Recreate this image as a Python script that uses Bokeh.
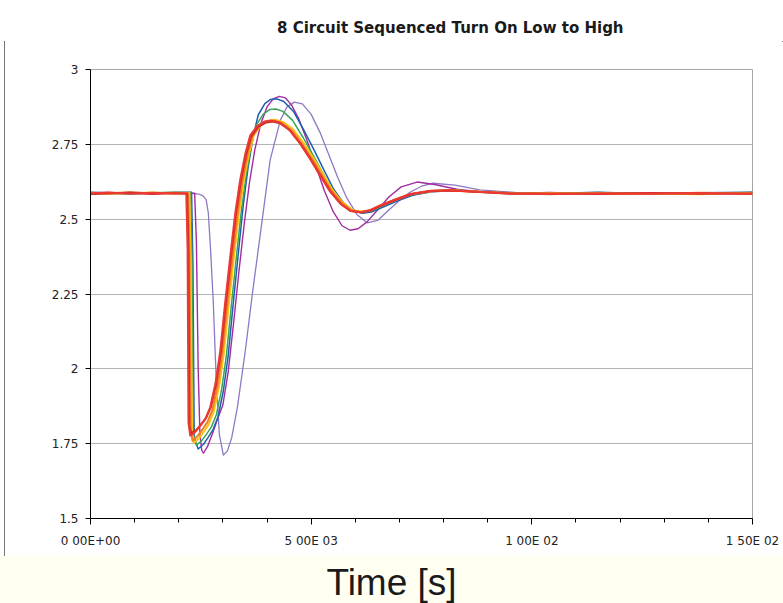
import numpy as np
from bokeh.plotting import figure
from bokeh.models import FixedTicker, Div, Range1d
from bokeh.layouts import column
from bokeh.embed import file_html
from bokeh.resources import INLINE

TITLE = "8 Circuit Sequenced Turn On Low to High"
X_LABEL = "Time [s]"
Y_TICKS = [1.5, 1.75, 2.0, 2.25, 2.5, 2.75, 3.0]
Y_TICK_LABELS = ["1.5", "1.75", "2", "2.25", "2.5", "2.75", "3"]
X_TICKS = [0.0, 0.005, 0.01, 0.015]
X_TICK_LABELS = ["0 00E+00", "5 00E 03", "1 00E 02", "1 50E 02"]
X_MINOR = [0.001, 0.002, 0.003, 0.004, 0.006, 0.007, 0.008, 0.009,
           0.011, 0.012, 0.013, 0.014]

# time in milliseconds, voltage in volts
T_LAV = [0, 0.4, 0.9, 1.4, 1.9, 2.30, 2.45, 2.55, 2.62, 2.67, 2.72, 2.78, 2.85,
         2.92, 3.01, 3.10, 3.20, 3.33, 3.51, 3.67, 3.89, 4.07, 4.30, 4.45, 4.62,
         4.80, 5.00, 5.20, 5.40, 5.60, 5.81, 6.04, 6.27, 6.52, 6.79, 7.02, 7.24,
         7.50, 7.76, 8.26, 8.82, 9.73, 10.6, 11.6, 12.7, 13.8, 15.0]
V_LAV = [2.588, 2.586, 2.590, 2.587, 2.585, 2.586, 2.584, 2.578, 2.565, 2.520,
         2.400, 2.230, 1.960, 1.780, 1.712, 1.725, 1.770, 1.873, 2.063, 2.253,
         2.497, 2.697, 2.830, 2.875, 2.891, 2.885, 2.850, 2.790, 2.715, 2.640,
         2.570, 2.515, 2.488, 2.497, 2.535, 2.565, 2.590, 2.610, 2.620, 2.614,
         2.598, 2.588, 2.585, 2.589, 2.584, 2.587, 2.585]

T_PUR = [0, 0.4, 0.9, 1.4, 1.9, 2.36, 2.40, 2.44, 2.48, 2.52, 2.56, 2.65, 2.76,
         2.88, 3.00, 3.12, 3.24, 3.36, 3.48, 3.60, 3.72, 3.86, 4.00, 4.14, 4.28,
         4.42, 4.56, 4.72, 4.90, 5.10, 5.30, 5.50, 5.70, 5.88, 6.06, 6.26, 6.50,
         6.76, 7.04, 7.40, 7.80, 8.30, 8.90, 9.60, 10.4, 11.5, 12.7, 13.8, 15.0]
V_PUR = [2.586, 2.589, 2.587, 2.585, 2.588, 2.587, 2.42, 2.00, 1.780, 1.728,
         1.718, 1.740, 1.782, 1.832, 1.880, 1.990, 2.150, 2.320, 2.480, 2.620,
         2.730, 2.820, 2.875, 2.902, 2.910, 2.905, 2.880, 2.835, 2.765, 2.680,
         2.595, 2.525, 2.478, 2.463, 2.468, 2.490, 2.530, 2.574, 2.608, 2.624,
         2.616, 2.600, 2.590, 2.586, 2.589, 2.584, 2.588, 2.585, 2.589]

T_BLU = [0, 0.4, 0.9, 1.4, 1.9, 2.29, 2.32, 2.35, 2.44, 2.56, 2.67, 2.78, 2.89,
         3.01, 3.12, 3.23, 3.35, 3.46, 3.57, 3.69, 3.80, 3.95, 4.08, 4.22, 4.38,
         4.60, 4.84, 5.07, 5.29, 5.51, 5.73, 5.95, 6.17, 6.39, 6.62, 6.96, 7.30,
         7.76, 8.20, 8.86, 9.56, 10.4, 11.5, 12.7, 13.8, 15.0]
V_BLU = [2.590, 2.588, 2.585, 2.587, 2.589, 2.590, 2.35, 1.77, 1.732, 1.748,
         1.772, 1.798, 1.840, 1.926, 2.044, 2.212, 2.386, 2.545, 2.672, 2.778,
         2.848, 2.886, 2.900, 2.902, 2.893, 2.860, 2.796, 2.730, 2.664, 2.600,
         2.555, 2.528, 2.520, 2.525, 2.540, 2.561, 2.580, 2.592, 2.596, 2.591,
         2.588, 2.586, 2.590, 2.585, 2.588, 2.590]

T_GRN = [0, 0.4, 0.9, 1.4, 1.9, 2.27, 2.30, 2.33, 2.40, 2.52, 2.63, 2.74, 2.85,
         2.97, 3.08, 3.19, 3.31, 3.42, 3.53, 3.65, 3.76, 3.92, 4.06, 4.20, 4.36,
         4.58, 4.82, 5.05, 5.27, 5.49, 5.71, 5.93, 6.15, 6.37, 6.60, 6.94, 7.28,
         7.74, 8.18, 8.84, 9.54, 10.4, 11.5, 12.7, 13.8, 15.0]
V_GRN = [2.589, 2.586, 2.584, 2.588, 2.590, 2.589, 2.36, 1.78, 1.745, 1.760,
         1.782, 1.806, 1.846, 1.930, 2.045, 2.210, 2.380, 2.530, 2.650, 2.750,
         2.815, 2.852, 2.866, 2.868, 2.860, 2.830, 2.772, 2.712, 2.652, 2.594,
         2.553, 2.528, 2.522, 2.528, 2.544, 2.565, 2.584, 2.595, 2.598, 2.592,
         2.586, 2.585, 2.589, 2.584, 2.587, 2.589]

T_YEL = [0, 0.4, 0.9, 1.4, 1.9, 2.24, 2.27, 2.30, 2.34, 2.46, 2.57, 2.68, 2.79,
         2.91, 3.02, 3.13, 3.25, 3.36, 3.47, 3.59, 3.70, 3.86, 4.02, 4.18, 4.36,
         4.58, 4.82, 5.05, 5.27, 5.49, 5.71, 5.93, 6.15, 6.37, 6.60, 6.94, 7.28,
         7.74, 8.18, 8.84, 9.54, 10.4, 11.5, 12.7, 13.8, 15.0]
V_YEL = [2.588, 2.585, 2.587, 2.589, 2.585, 2.588, 2.37, 1.79, 1.752, 1.768,
         1.790, 1.815, 1.855, 1.938, 2.050, 2.210, 2.372, 2.514, 2.626, 2.718,
         2.780, 2.815, 2.829, 2.832, 2.825, 2.802, 2.756, 2.704, 2.650, 2.596,
         2.556, 2.531, 2.525, 2.531, 2.546, 2.566, 2.584, 2.594, 2.597, 2.592,
         2.585, 2.587, 2.584, 2.586, 2.583, 2.587]

T_ORA = [0, 0.4, 0.9, 1.4, 1.9, 2.21, 2.24, 2.27, 2.31, 2.43, 2.54, 2.65, 2.76,
         2.88, 2.99, 3.10, 3.22, 3.33, 3.44, 3.56, 3.67, 3.83, 3.99, 4.15, 4.33,
         4.55, 4.79, 5.02, 5.24, 5.46, 5.69, 5.91, 6.13, 6.35, 6.58, 6.92, 7.26,
         7.72, 8.16, 8.82, 9.52, 10.4, 11.5, 12.7, 13.8, 15.0]
V_ORA = [2.585, 2.587, 2.590, 2.586, 2.588, 2.587, 2.38, 1.80, 1.760, 1.776,
         1.798, 1.822, 1.862, 1.944, 2.056, 2.216, 2.376, 2.516, 2.626, 2.716,
         2.778, 2.812, 2.826, 2.828, 2.821, 2.798, 2.752, 2.701, 2.648, 2.595,
         2.555, 2.530, 2.524, 2.530, 2.545, 2.565, 2.583, 2.593, 2.596, 2.591,
         2.587, 2.583, 2.587, 2.584, 2.588, 2.585]

T_DRD = [0, 0.4, 0.9, 1.4, 1.9, 2.19, 2.22, 2.24, 2.28, 2.40, 2.51, 2.62, 2.73,
         2.85, 2.96, 3.07, 3.19, 3.30, 3.41, 3.53, 3.64, 3.80, 3.96, 4.12, 4.30,
         4.52, 4.77, 5.00, 5.22, 5.45, 5.68, 5.90, 6.13, 6.35, 6.58, 6.92, 7.26,
         7.72, 8.16, 8.82, 9.52, 10.4, 11.5, 12.7, 13.8, 15.0]
V_DRD = [2.584, 2.586, 2.588, 2.584, 2.587, 2.585, 2.38, 1.81, 1.785, 1.796,
         1.815, 1.836, 1.874, 1.952, 2.062, 2.222, 2.382, 2.522, 2.630, 2.718,
         2.776, 2.808, 2.822, 2.826, 2.820, 2.796, 2.750, 2.698, 2.644, 2.590,
         2.550, 2.527, 2.522, 2.529, 2.545, 2.565, 2.583, 2.594, 2.596, 2.591,
         2.585, 2.586, 2.584, 2.587, 2.585, 2.586]

T_RED = [0, 0.4, 0.9, 1.4, 1.9, 2.17, 2.20, 2.22, 2.26, 2.38, 2.49, 2.60, 2.71,
         2.83, 2.94, 3.05, 3.17, 3.28, 3.39, 3.51, 3.62, 3.78, 3.94, 4.10, 4.28,
         4.50, 4.75, 4.98, 5.20, 5.43, 5.66, 5.88, 6.11, 6.33, 6.56, 6.90, 7.24,
         7.70, 8.14, 8.80, 9.50, 10.4, 11.5, 12.7, 13.8, 15.0]
V_RED = [2.587, 2.589, 2.585, 2.588, 2.586, 2.586, 2.40, 1.82, 1.777, 1.790,
         1.810, 1.832, 1.870, 1.950, 2.060, 2.220, 2.380, 2.520, 2.630, 2.720,
         2.780, 2.812, 2.826, 2.830, 2.824, 2.800, 2.752, 2.700, 2.646, 2.592,
         2.552, 2.528, 2.523, 2.530, 2.546, 2.566, 2.584, 2.595, 2.597, 2.592,
         2.586, 2.584, 2.586, 2.585, 2.587, 2.584]

SERIES = [
    (T_LAV, V_LAV, "#8f78c6", 1.3),
    (T_PUR, V_PUR, "#a22c9e", 1.4),
    (T_BLU, V_BLU, "#1f5fae", 1.5),
    (T_GRN, V_GRN, "#3aa35c", 1.5),
    (T_YEL, V_YEL, "#fcc214", 2.0),
    (T_ORA, V_ORA, "#f47c22", 2.0),
    (T_DRD, V_DRD, "#cf2a2a", 2.0),
    (T_RED, V_RED, "#ea3a33", 2.0),
]

CREAM = "#fffff2"

title_div = Div(text='<div style="padding-left:273px;padding-top:18px;font-family:\'DejaVu Sans\';'
                     'font-weight:bold;font-size:15px;line-height:18px;white-space:nowrap;color:#1a1a1a">'
                     + TITLE + '</div>',
                width=779, height=40, margin=0, styles={"background-color": "white"})

p = figure(width=779, height=515, x_range=Range1d(0, 0.015), y_range=Range1d(1.5, 3.0),
           title=None, output_backend="svg", toolbar_location=None,
           min_border_left=86, min_border_right=31, min_border_top=28, min_border_bottom=38)
p.background_fill_color = "white"
p.border_fill_color = "white"
p.outline_line_color = "#a6a6a6"

for t_ms, v, col, w in SERIES:
    p.line(np.array(t_ms) / 1000.0, v, line_color=col, line_width=w, line_join="round")

p.ygrid.grid_line_color = "#b4b4b4"
p.xgrid.grid_line_color = None

p.xaxis.ticker = FixedTicker(ticks=X_TICKS, minor_ticks=X_MINOR)
p.xaxis.major_label_overrides = dict(zip(X_TICKS, X_TICK_LABELS))
p.yaxis.ticker = FixedTicker(ticks=Y_TICKS, minor_ticks=[])
p.yaxis.major_label_overrides = dict(zip(Y_TICKS, Y_TICK_LABELS))

for ax in (p.xaxis, p.yaxis):
    ax.axis_line_color = "black"
    ax.major_tick_line_color = "black"
    ax.minor_tick_line_color = "black"
    ax.major_tick_in = 0
    ax.minor_tick_in = 0
    ax.major_label_text_font = "DejaVu Sans"
    ax.major_label_text_font_size = "12px"
    ax.major_label_text_color = "#222222"
p.xaxis.major_tick_out = 6
p.xaxis.minor_tick_out = 4
p.xaxis.major_label_standoff = 9
p.yaxis.major_tick_out = 5
p.yaxis.minor_tick_out = 0
p.yaxis.major_label_standoff = 7

chart_box = column(title_div, p, spacing=0,
                   styles={"margin-left": "4px", "margin-top": "1px", "background-color": "white",
                           "outline": "1px solid #4a4a4a", "outline-offset": "-1px"})

xlabel_div = Div(text='<div style="width:783px;text-align:center;font-family:\'Liberation Sans\',Arial,sans-serif;'
                      'font-size:37px;line-height:37px;color:#1a1a1a;padding-top:8px">' + X_LABEL + '</div>',
                 width=783, height=47, margin=0, styles={"background-color": CREAM})

layout = column(chart_box, xlabel_div, spacing=0)
html = file_html(layout, INLINE)
html = html.replace("<body>", '<body style="background-color:%s">' % CREAM, 1)
open("out.html", "w").write(html)
